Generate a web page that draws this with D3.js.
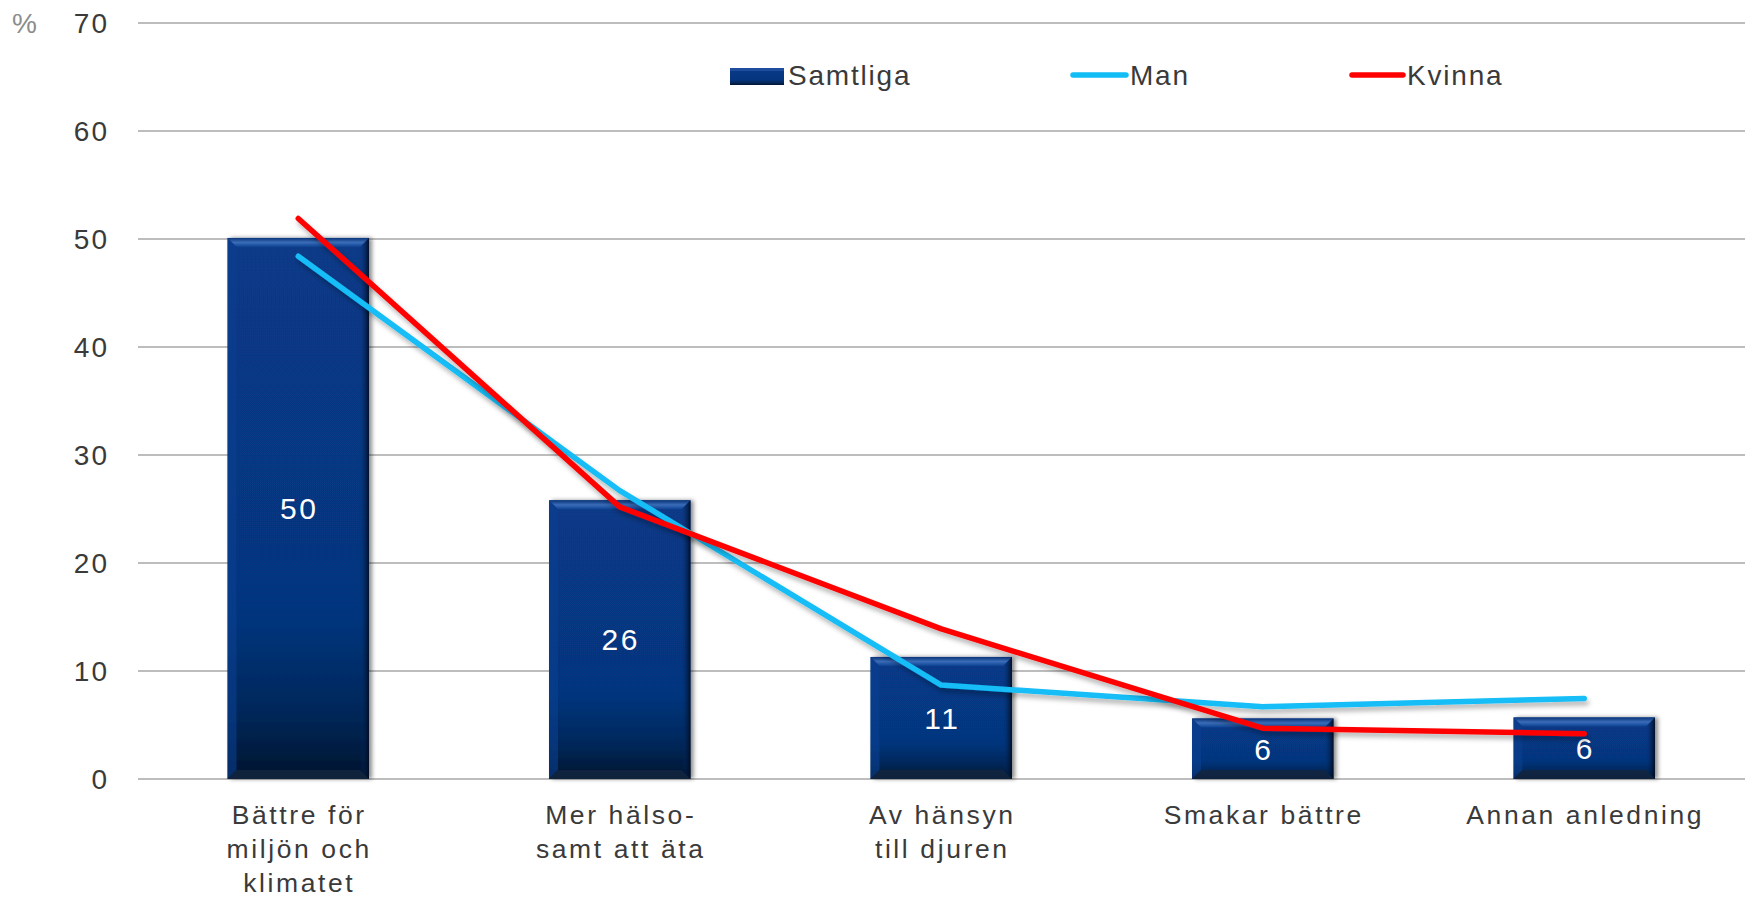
<!DOCTYPE html>
<html><head><meta charset="utf-8">
<script src="https://cdn.jsdelivr.net/npm/d3@7"></script>
<style>
html,body{margin:0;padding:0;background:#fff;}
svg{display:block;font-family:"Liberation Sans",Arial,sans-serif;}
</style></head>
<body>
<svg id="chart" width="1745" height="897"></svg>
<script>
const categories = [["Bättre för","miljön och","klimatet"],["Mer hälso-","samt att äta"],["Av hänsyn","till djuren"],["Smakar bättre"],["Annan anledning"]];
const samtliga = [50.1, 25.8, 11.3, 5.6, 5.7];
const man = [48.4, 26.7, 8.7, 6.7, 7.45];
const kvinna = [51.9, 25.2, 13.9, 4.7, 4.2];
const yTicks = [0,10,20,30,40,50,60,70];
const seriesNames = ["Samtliga","Man","Kvinna"];

const svg = d3.select("#chart");
const idx = d3.range(categories.length);
const x = d3.scaleBand().domain(idx).range([137.5,1745]).paddingInner(0.56).paddingOuter(0.28);
const y = d3.scaleLinear().domain([0,70]).range([779,23]);

const defs = svg.append("defs");
const g1 = defs.append("linearGradient").attr("id","barGrad").attr("x1",0).attr("y1",0).attr("x2",0).attr("y2",1);
g1.append("stop").attr("offset",0).attr("stop-color","#073a88");
g1.append("stop").attr("offset",0.7).attr("stop-color","#06357e");
g1.append("stop").attr("offset",0.88).attr("stop-color","#042759");
g1.append("stop").attr("offset",1).attr("stop-color","#03142e");
const gh = defs.append("linearGradient").attr("id","hiGrad").attr("x1",0).attr("y1",0).attr("x2",0).attr("y2",1);
gh.append("stop").attr("offset",0).attr("stop-color","#0a3478");
gh.append("stop").attr("offset",0.5).attr("stop-color","#3a6cb8");
gh.append("stop").attr("offset",1).attr("stop-color","#0d4394");
const gr = defs.append("linearGradient").attr("id","rGrad").attr("x1",0).attr("y1",0).attr("x2",1).attr("y2",0);
gr.append("stop").attr("offset",0).attr("stop-color","#05306f").attr("stop-opacity",0);
gr.append("stop").attr("offset",1).attr("stop-color","#010a1c").attr("stop-opacity",0.9);
const f1 = defs.append("filter").attr("id","barShadow").attr("x","-20%").attr("y","-10%").attr("width","140%").attr("height","120%");
f1.append("feDropShadow").attr("dx",3).attr("dy",0).attr("stdDeviation",2).attr("flood-color","#000").attr("flood-opacity",0.45);
const f2 = defs.append("filter").attr("id","lineShadow").attr("x","-10%").attr("y","-20%").attr("width","120%").attr("height","150%");
f2.append("feDropShadow").attr("dx",2).attr("dy",4).attr("stdDeviation",2.5).attr("flood-color","#000").attr("flood-opacity",0.3);

// gridlines
svg.append("g").selectAll("line").data(yTicks).join("line")
  .attr("x1",138).attr("x2",1745).attr("y1",d=>y(d)).attr("y2",d=>y(d))
  .attr("stroke","#bdbdbd").attr("stroke-width",2);

// y tick labels
svg.append("g").selectAll("text").data(yTicks).join("text")
  .attr("x",109).attr("y",d=>y(d)).attr("dy","0.36em").attr("text-anchor","end")
  .attr("font-size",28).attr("letter-spacing",2).attr("fill","#3a3a3a").text(d=>d);
svg.append("text").attr("x",12).attr("y",33).attr("font-size",28).attr("fill","#8c8c8c").text("%");

// bars
const bars = svg.append("g").selectAll("g").data(idx).join("g");
bars.append("rect")
  .attr("x",i=>x(i)).attr("y",i=>y(samtliga[i])).attr("width",x.bandwidth())
  .attr("height",i=>y(0)-y(samtliga[i])).attr("fill","url(#barGrad)").attr("filter","url(#barShadow)");
const bw = x.bandwidth(), bv = 9;
bars.append("polygon").attr("points",i=>{const l=x(i),r=l+bw,t=y(samtliga[i]);
  return [[l,t],[r,t],[r-bv,t+bv],[l+bv,t+bv]].map(p=>p.join(",")).join(" ");}).attr("fill","url(#hiGrad)");
bars.append("polygon").attr("points",i=>{const l=x(i),t=y(samtliga[i]),b=y(0);
  return [[l,t],[l+bv,t+bv],[l+bv,b-bv],[l,b]].map(p=>p.join(",")).join(" ");}).attr("fill","#0a3f8f").attr("opacity",0.6);
bars.append("polygon").attr("points",i=>{const r=x(i)+bw,t=y(samtliga[i]),b=y(0);
  return [[r,t],[r,b],[r-bv,b-bv],[r-bv,t+bv]].map(p=>p.join(",")).join(" ");}).attr("fill","url(#rGrad)");
bars.append("polygon").attr("points",i=>{const l=x(i),r=l+bw,b=y(0);
  return [[l,b],[l+bv,b-bv],[r-bv,b-bv],[r,b]].map(p=>p.join(",")).join(" ");}).attr("fill","#13263f").attr("opacity",0.85);

// value labels
bars.append("text").attr("x",i=>x(i)+bw/2+1).attr("y",i=>(y(samtliga[i])+y(0))/2).attr("dy","0.36em")
  .attr("text-anchor","middle").attr("font-size",30).attr("letter-spacing",2.5).attr("fill","#fff")
  .text(i=>d3.format(".0f")(samtliga[i]));

// lines
const line = d3.line().x(d=>x(d[0])+bw/2).y(d=>y(d[1]));
[[man,"#12bdf6"],[kvinna,"#ff0000"]].forEach(([vals,col])=>{
  svg.append("path").datum(vals.map((v,i)=>[i,v])).attr("d",line)
    .attr("fill","none").attr("stroke",col).attr("stroke-width",5.5)
    .attr("stroke-linecap","round").attr("stroke-linejoin","round").attr("filter","url(#lineShadow)");
});

// category labels
const cl = svg.append("g").selectAll("text").data(idx).join("text")
  .attr("x",i=>x(i)+bw/2+1).attr("y",824).attr("text-anchor","middle")
  .attr("font-size",26.5).attr("letter-spacing",2.6).attr("fill","#3a3a3a");
cl.selectAll("tspan").data(i=>categories[i]).join("tspan")
  .attr("x",function(){return d3.select(this.parentNode).attr("x");})
  .attr("dy",(d,k)=>k===0?0:34).text(d=>d);

// legend
const lg = svg.append("g");
lg.append("rect").attr("x",730).attr("y",68).attr("width",54).attr("height",17).attr("fill","url(#barGrad)");
lg.append("rect").attr("x",730).attr("y",68).attr("width",54).attr("height",3).attr("fill","#1d4d9c");
lg.append("text").attr("x",788).attr("y",85).attr("font-size",28).attr("letter-spacing",1.8).attr("fill","#3a3a3a").text(seriesNames[0]);
lg.append("line").attr("x1",1073).attr("x2",1126).attr("y1",75).attr("y2",75).attr("stroke","#12bdf6").attr("stroke-width",5.5).attr("stroke-linecap","round");
lg.append("text").attr("x",1130).attr("y",85).attr("font-size",28).attr("letter-spacing",1.8).attr("fill","#3a3a3a").text(seriesNames[1]);
lg.append("line").attr("x1",1352).attr("x2",1403).attr("y1",75).attr("y2",75).attr("stroke","#ff0000").attr("stroke-width",5.5).attr("stroke-linecap","round");
lg.append("text").attr("x",1407).attr("y",85).attr("font-size",28).attr("letter-spacing",1.8).attr("fill","#3a3a3a").text(seriesNames[2]);
</script>
</body></html>
